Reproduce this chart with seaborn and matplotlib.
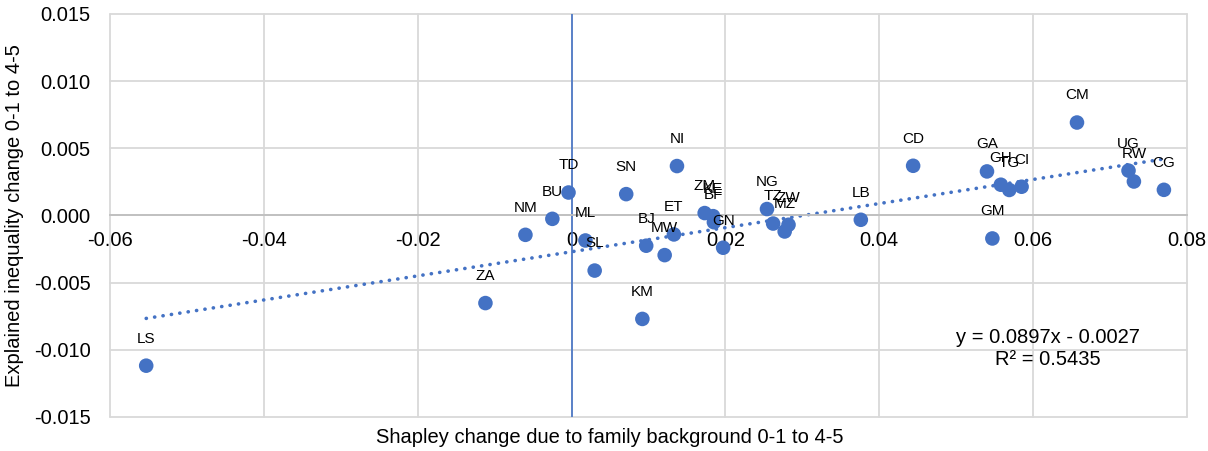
import matplotlib
matplotlib.use('Agg')
import matplotlib.pyplot as plt
import seaborn as sns
import numpy as np
import pandas as pd

# country codes and values
countries = ['LS', 'ZA', 'NM', 'BU', 'TD', 'ML', 'SL', 'SN', 'NI', 'BJ', 'MW',
             'ET', 'KM', 'ZM', 'KE', 'BF', 'GN', 'NG', 'TZ', 'ZW', 'MZ', 'LB',
             'CD', 'GA', 'GM', 'GH', 'TG', 'CI', 'CM', 'UG', 'RW', 'CG']
shapley_change = [-0.0553, -0.0112, -0.0060, -0.0025, -0.0004, 0.0018, 0.0030,
                  0.0071, 0.0137, 0.0097, 0.0121, 0.0133, 0.0092, 0.0173,
                  0.0184, 0.0185, 0.0197, 0.0254, 0.0262, 0.0282, 0.0277,
                  0.0376, 0.0444, 0.0540, 0.0547, 0.0558, 0.0569, 0.0585,
                  0.0657, 0.0724, 0.0731, 0.0770]
explained_change = [-0.01118, -0.00652, -0.00144, -0.00025, 0.00171, -0.00186,
                    -0.00410, 0.00159, 0.00368, -0.00225, -0.00295, -0.00141,
                    -0.00770, 0.00018, -0.00005, -0.00050, -0.00240, 0.00048,
                    -0.00060, -0.00069, -0.00119, -0.00032, 0.00370, 0.00328,
                    -0.00171, 0.00229, 0.00190, 0.00214, 0.00692, 0.00334,
                    0.00253, 0.00191]

# trendline shown in the chart
slope, intercept, r2 = 0.0897, -0.0027, 0.5435

x_ticks = [-0.06, -0.04, -0.02, 0, 0.02, 0.04, 0.06, 0.08]
x_tick_labels = ['-0.06', '-0.04', '-0.02', '0', '0.02', '0.04', '0.06', '0.08']
y_ticks = [-0.015, -0.010, -0.005, 0.0, 0.005, 0.010, 0.015]
y_tick_labels = ['-0.015', '-0.010', '-0.005', '0.000', '0.005', '0.010', '0.015']

df = pd.DataFrame({'country': countries, 'shapley': shapley_change,
                   'explained': explained_change})

sns.set_theme(style='white')
plt.rcParams['font.family'] = ['Liberation Sans', 'DejaVu Sans']
plt.rcParams['axes.unicode_minus'] = False

blue = '#4472C4'
grid_col = '#d9d9d9'

f = plt.figure(figsize=(12.08, 4.51), dpi=100)
f.set_facecolor('white')
ax = f.add_axes([0.0911, 0.0754, 0.8915, 0.8936])

# trendline (dotted)
tx = np.array([df['shapley'].min(), df['shapley'].max()])
ax.plot(tx, slope * tx + intercept, color=blue, lw=2.6,
        linestyle=(0, (0.05, 2.3)), dash_capstyle='round', zorder=2)

ax.axvline(0, color=blue, lw=1.2, zorder=1.5)

sns.scatterplot(data=df, x='shapley', y='explained', ax=ax, color=blue,
                s=110, edgecolor='none', zorder=3)

for _, r in df.iterrows():
    ax.annotate(r['country'], (r['shapley'], r['explained']),
                xytext=(0, 19.5), textcoords='offset points',
                ha='center', va='center', fontsize=11, color='black', zorder=4)

ax.set_xlim(-0.06, 0.08)
ax.set_ylim(-0.015, 0.015)
ax.set_xticks(x_ticks, labels=x_tick_labels)
ax.set_yticks(y_ticks, labels=y_tick_labels)
ax.grid(True, color=grid_col, lw=1.3, clip_on=False, zorder=0)
ax.set_axisbelow(True)

for s in ['top', 'right', 'left']:
    ax.spines[s].set_visible(False)
ax.spines['bottom'].set_position(('data', 0))
ax.spines['bottom'].set_color('#bfbfbf')
ax.spines['bottom'].set_linewidth(1.3)
ax.tick_params(axis='both', length=0, labelsize=14.5, colors='black')
ax.tick_params(axis='x', pad=11)
ax.tick_params(axis='y', pad=14)

ax.set_xlabel('Shapley change due to family background 0-1 to 4-5',
              fontsize=14.5, color='black', va='center')
ax.xaxis.set_label_coords(0.464, -0.05)
ax.set_ylabel('Explained inequality change 0-1 to 4-5', fontsize=14.5,
              color='black', va='center')
ax.yaxis.set_label_coords(-0.089, 0.5)

ax.text(0.871, 0.169, 'y = {}x - {}\nR² = {}'.format(slope, abs(intercept), r2),
        transform=ax.transAxes, ha='center', va='center', multialignment='center',
        fontsize=14.5, color='black', linespacing=1.2)

plt.savefig('out.png', dpi=100, facecolor='white')
